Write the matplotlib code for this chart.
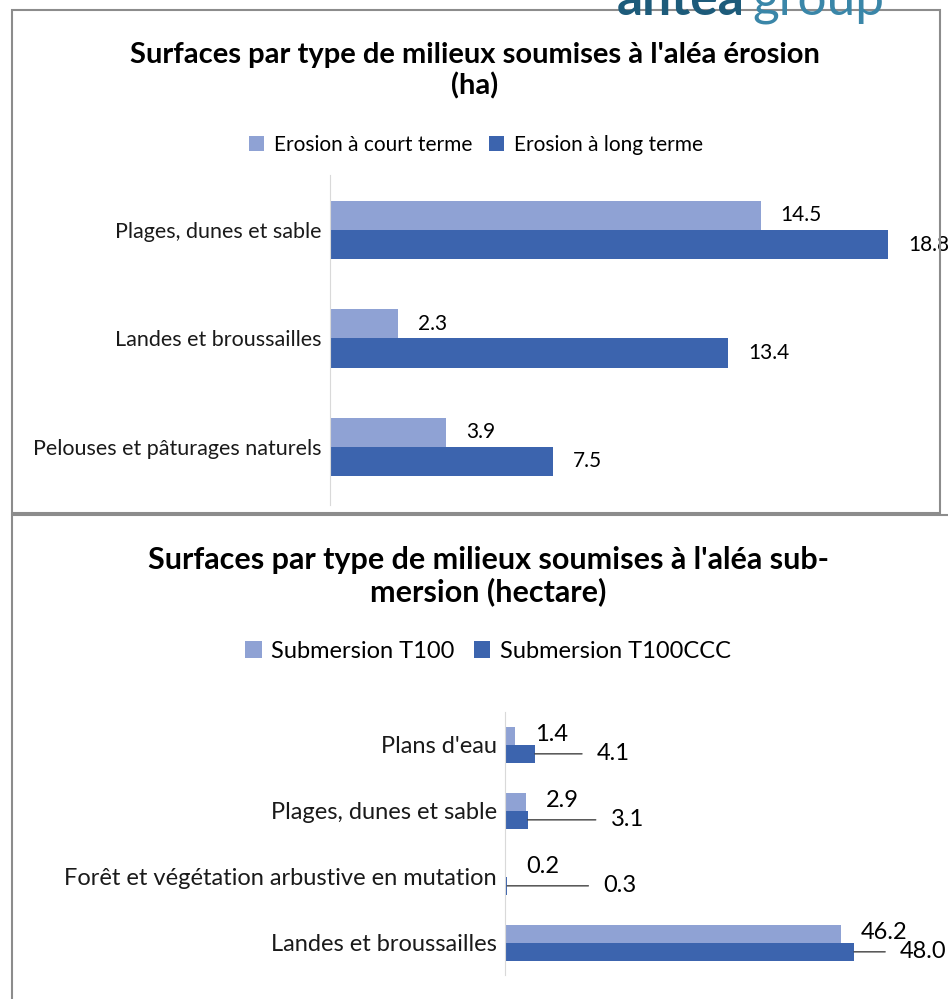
import matplotlib.pyplot as plt
from matplotlib.patches import Rectangle

# Chart data
erosion_categories = ['Plages, dunes et sable', 'Landes et broussailles', 'Pelouses et pâturages naturels']
erosion_short = [14.5, 2.3, 3.9]
erosion_long = [18.8, 13.4, 7.5]

submersion_categories = ["Plans d'eau", 'Plages, dunes et sable',
                         'Forêt et végétation arbustive en mutation', 'Landes et broussailles']
submersion_t100 = [1.4, 2.9, 0.2, 46.2]
submersion_t100ccc = [4.1, 3.1, 0.3, 48.0]

# offsets (px) of the dragged labels of the T100CCC series
leader_offsets = [62, 83, 96, 46]

LIGHT = '#8fa2d4'
DARK = '#3c64ae'
W, H = 948, 999
PT = 0.72  # points per pixel at 100 dpi

plt.rcParams['font.family'] = ['Lato', 'DejaVu Sans']

fig = plt.figure(figsize=(W / 100, H / 100), dpi=100)


def box(x0, y0, x1, y1):
    """Axes rectangle from pixel coords (top-left origin)."""
    return [x0 / W, 1 - y1 / H, (x1 - x0) / W, (y1 - y0) / H]


def style_axes(ax, categories, fs):
    for s in ['top', 'right', 'bottom']:
        ax.spines[s].set_visible(False)
    ax.spines['left'].set_color('#d9d9d9')
    ax.set_xticks([])
    ax.set_yticks(range(len(categories)))
    ax.set_yticklabels(categories, fontsize=fs, color='#1a1a1a')
    ax.tick_params(axis='y', length=0, pad=6)


# logo, mostly cut off at the top edge
fig.text(617 / W, 1 - 15 / H, 'antea', fontsize=37, fontweight='bold', color='#1d5b7a', va='baseline')
fig.text(752 / W, 1 - 15 / H, 'group', fontsize=37, color='#3a86a8', va='baseline')

# chart frames
fig.add_artist(Rectangle((12 / W, 1 - 513 / H), 928 / W, 503 / H, transform=fig.transFigure,
                         fill=False, edgecolor='#8c8c8c', lw=1.5))
fig.add_artist(Rectangle((12 / W, 1 - 1010 / H), 950 / W, 495 / H, transform=fig.transFigure,
                         fill=False, edgecolor='#8c8c8c', lw=1.5, clip_on=False))

# ---- top chart: erosion ----
ax1 = fig.add_axes(box(330, 175, 930, 505))
h = 0.268
y = range(len(erosion_categories))
ax1.barh([i - h / 2 for i in y], erosion_short, height=h, color=LIGHT, label='Erosion à court terme')
ax1.barh([i + h / 2 for i in y], erosion_long, height=h, color=DARK, label='Erosion à long terme')
ax1.set_xlim(0, 600 / 29.7)
ax1.set_ylim(2.535, -0.507)
style_axes(ax1, erosion_categories, 15.5)
for i in y:
    ax1.annotate(f'{erosion_short[i]:.1f}', (erosion_short[i], i - h / 2), xytext=(20 * PT, 0),
                 textcoords='offset points', va='center', ha='left', fontsize=15, annotation_clip=False)
    ax1.annotate(f'{erosion_long[i]:.1f}', (erosion_long[i], i + h / 2), xytext=(20 * PT, 0),
                 textcoords='offset points', va='center', ha='left', fontsize=15, annotation_clip=False)

fig.text(475 / W, 1 - 55 / H, "Surfaces par type de milieux soumises à l'aléa érosion",
         ha='center', va='center', fontsize=21, fontweight='bold')
fig.text(475 / W, 1 - 86 / H, "(ha)", ha='center', va='center', fontsize=21, fontweight='bold')
fig.legend(*ax1.get_legend_handles_labels(), loc='center', bbox_to_anchor=(476 / W, 1 - 145 / H),
           ncol=2, frameon=False, fontsize=15, handlelength=0.7, handleheight=0.7,
           handletextpad=0.5, columnspacing=0.8)

# ---- bottom chart: submersion ----
ax2 = fig.add_axes(box(505, 712, 940, 975))
y = range(len(submersion_categories))
ax2.barh([i - h / 2 for i in y], submersion_t100, height=h, color=LIGHT, label='Submersion T100')
ax2.barh([i + h / 2 for i in y], submersion_t100ccc, height=h, color=DARK, label='Submersion T100CCC')
ax2.set_xlim(0, 435 / 7.27)
ax2.set_ylim(3.485, -0.5)
style_axes(ax2, submersion_categories, 17)
for i in y:
    ax2.annotate(f'{submersion_t100[i]:.1f}', (submersion_t100[i], i - h / 2 - 0.03), xytext=(20 * PT, 0),
                 textcoords='offset points', va='center', ha='left', fontsize=17, annotation_clip=False)
    ax2.annotate(f'{submersion_t100ccc[i]:.1f}', (submersion_t100ccc[i], i + h / 2),
                 xytext=(leader_offsets[i] * PT, 0), textcoords='offset points',
                 va='center', ha='left', fontsize=17, annotation_clip=False,
                 arrowprops=dict(arrowstyle='-', color='#404040', lw=1, relpos=(0, 0.5),
                                 shrinkA=12 * PT, shrinkB=0))

fig.text(488 / W, 1 - 560 / H, "Surfaces par type de milieux soumises à l'aléa sub-",
         ha='center', va='center', fontsize=22, fontweight='bold')
fig.text(488 / W, 1 - 592 / H, "mersion (hectare)", ha='center', va='center', fontsize=22, fontweight='bold')
fig.legend(*ax2.get_legend_handles_labels(), loc='center', bbox_to_anchor=(488 / W, 1 - 651 / H),
           ncol=2, frameon=False, fontsize=17, handlelength=0.7, handleheight=0.7,
           handletextpad=0.4, columnspacing=0.8)

fig.savefig('out.png', dpi=100)
